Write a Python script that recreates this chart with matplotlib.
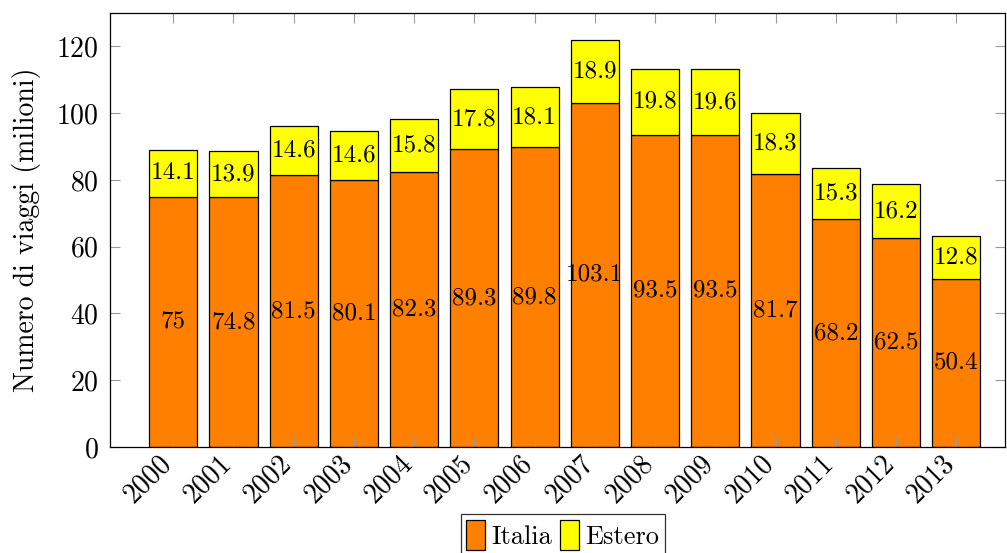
import matplotlib
matplotlib.use("Agg")
import matplotlib.pyplot as plt
import matplotlib.transforms as mtransforms
import numpy as np

years = ["2000", "2001", "2002", "2003", "2004", "2005", "2006",
         "2007", "2008", "2009", "2010", "2011", "2012", "2013"]
italia = [75, 74.8, 81.5, 80.1, 82.3, 89.3, 89.8, 103.1, 93.5, 93.5, 81.7, 68.2, 62.5, 50.4]
estero = [14.1, 13.9, 14.6, 14.6, 15.8, 17.8, 18.1, 18.9, 19.8, 19.6, 18.3, 15.3, 16.2, 12.8]

plt.rcParams["font.family"] = ["cmr10", "DejaVu Serif"]
plt.rcParams["mathtext.fontset"] = "cm"
plt.rcParams["axes.formatter.use_mathtext"] = True

W, H = 1007, 553
fig = plt.figure(figsize=(W / 100, H / 100), dpi=100)
ax = fig.add_axes([110 / W, (H - 447) / H, (1005 - 110) / W, (447 - 13) / H])

x = np.arange(len(years))
width = 0.8
orange = "#FF8000"
yellow = "#FFFF00"

ax.bar(x, italia, width, color=orange, edgecolor="black", linewidth=0.9, label="Italia")
ax.bar(x, estero, width, bottom=italia, color=yellow, edgecolor="black", linewidth=0.9, label="Estero")

for xi, it, es in zip(x, italia, estero):
    ax.text(xi, it / 2, f"{it:g}", ha="center", va="center", fontsize=18)
    ax.text(xi, it + es / 2, f"{es:g}", ha="center", va="center", fontsize=18)

ax.set_xlim(-1.05, 13.81)
ax.set_ylim(0, 130)
ax.set_yticks([0, 20, 40, 60, 80, 100, 120])
ax.set_xticks(x)
ax.set_xticklabels(years, rotation=45, ha="right", va="center_baseline",
                   rotation_mode="anchor")
ax.tick_params(axis="both", direction="in", length=7, width=0.8, color="#999999",
               labelsize=20, top=True, right=True)
ax.tick_params(axis="x", pad=10)
ax.tick_params(axis="y", pad=8)
shift = mtransforms.ScaledTranslation(-0.08, 0.04, fig.dpi_scale_trans)
for lbl in ax.get_xticklabels():
    lbl.set_transform(lbl.get_transform() + shift)
for s in ax.spines.values():
    s.set_linewidth(0.9)

ax.set_ylabel("Numero di viaggi (milioni)", fontsize=20, labelpad=11)

leg = ax.legend(loc="upper center", bbox_to_anchor=(0.506, -0.155), ncol=2,
                fontsize=19, frameon=True, fancybox=False, edgecolor="black",
                handlelength=0.7, handleheight=1.4, handletextpad=0.25,
                columnspacing=0.3, borderpad=0.2, borderaxespad=0)
leg.get_frame().set_linewidth(0.9)

fig.savefig("out.png", dpi=100)
